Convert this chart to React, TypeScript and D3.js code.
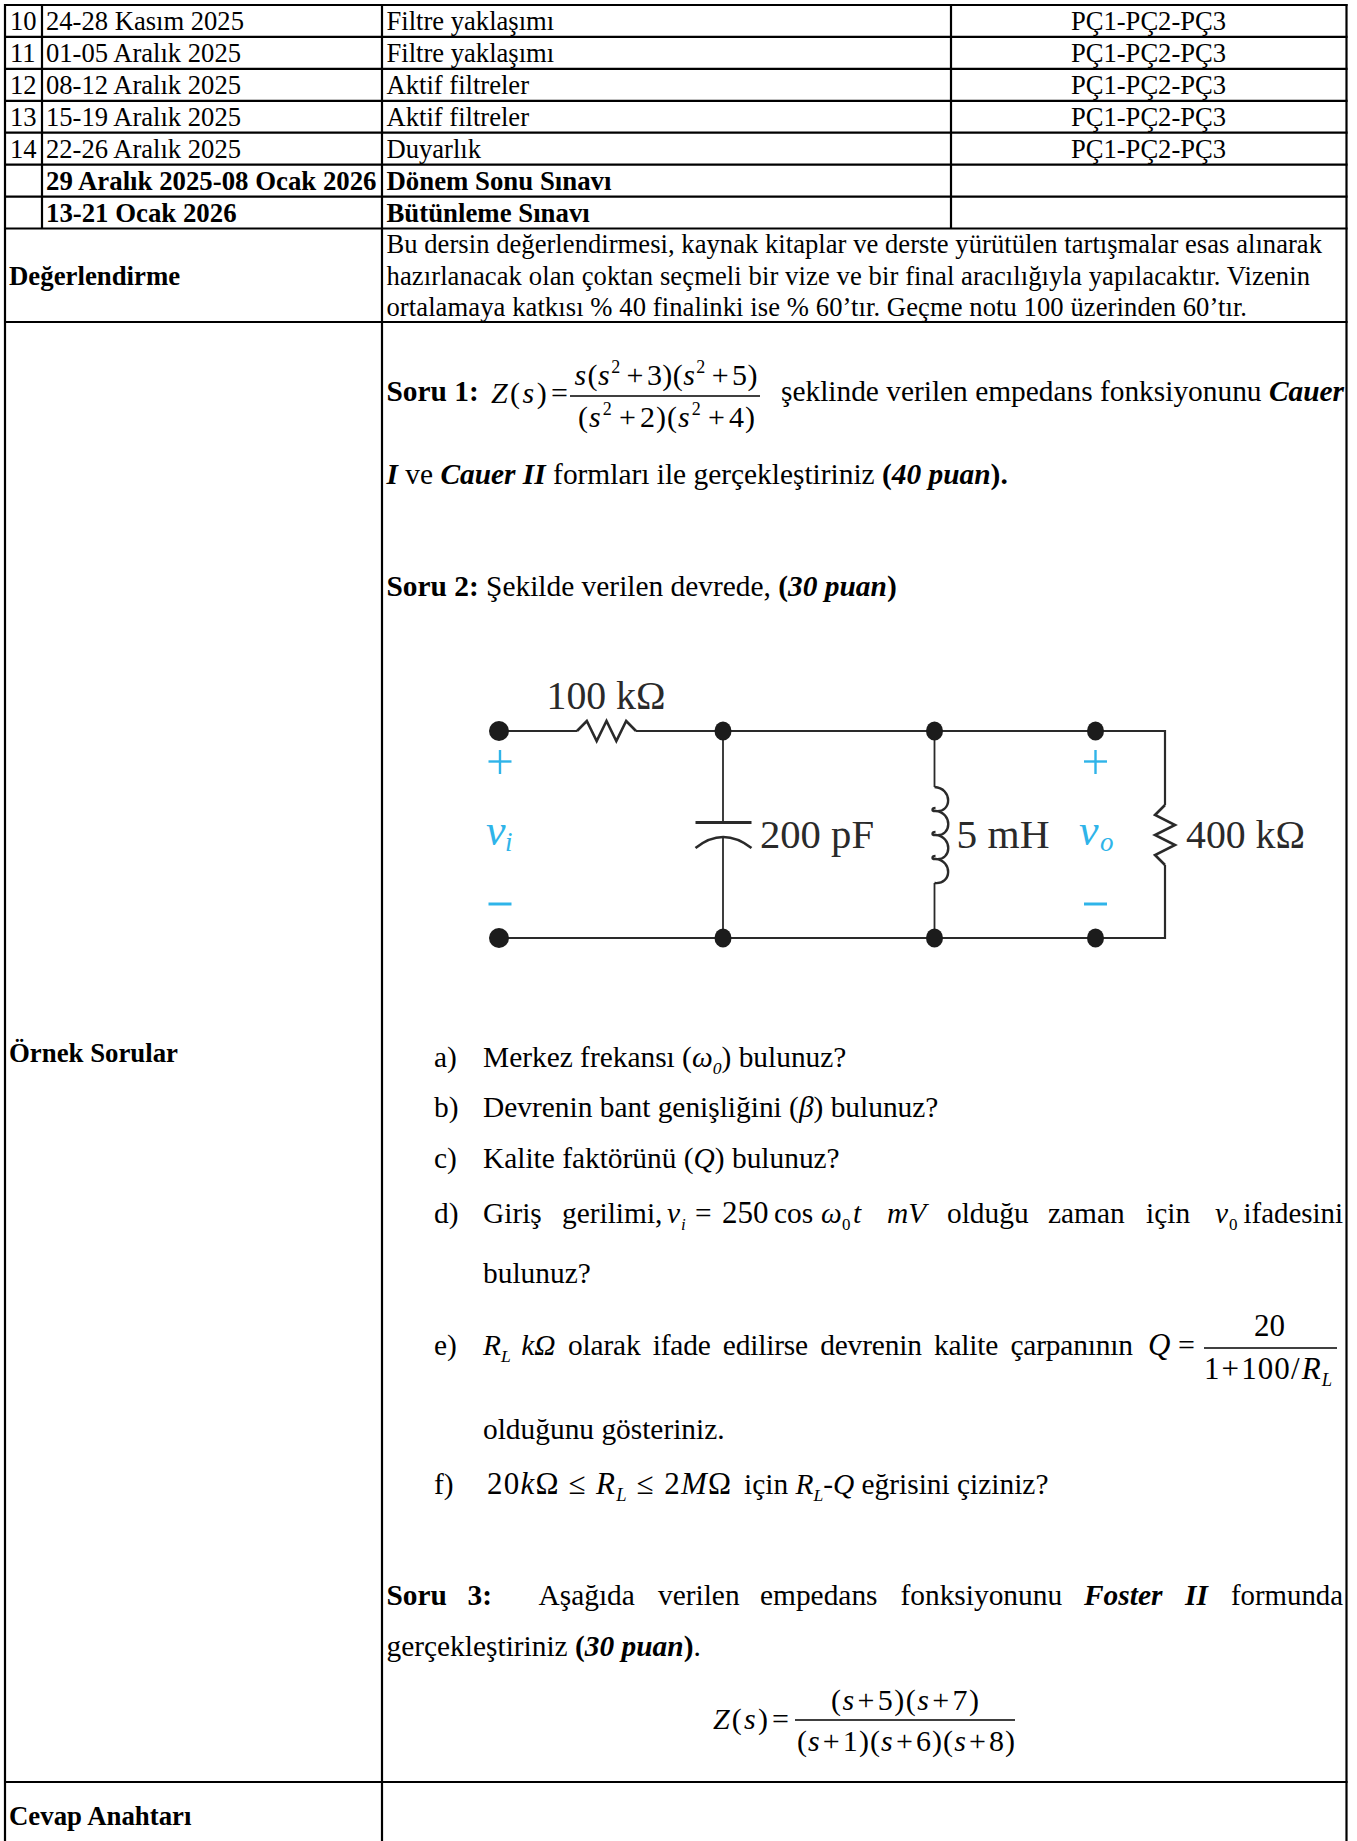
import React from "react";
import * as d3 from "d3";

const weekNos = ["10", "11", "12", "13", "14", "", ""];
const weekDates = ["24-28 Kasım 2025", "01-05 Aralık 2025", "08-12 Aralık 2025", "15-19 Aralık 2025", "22-26 Aralık 2025", "29 Aralık 2025-08 Ocak 2026", "13-21 Ocak 2026"];
const weekTopics = ["Filtre yaklaşımı", "Filtre yaklaşımı", "Aktif filtreler", "Aktif filtreler", "Duyarlık", "Dönem Sonu Sınavı", "Bütünleme Sınavı"];
const weekOutcomes = ["PÇ1-PÇ2-PÇ3", "PÇ1-PÇ2-PÇ3", "PÇ1-PÇ2-PÇ3", "PÇ1-PÇ2-PÇ3", "PÇ1-PÇ2-PÇ3", "", ""];
const evalLines = [
  "Bu dersin değerlendirmesi, kaynak kitaplar ve derste yürütülen tartışmalar esas alınarak",
  "hazırlanacak olan çoktan seçmeli bir vize ve bir final aracılığıyla yapılacaktır. Vizenin",
  "ortalamaya katkısı % 40 finalinki ise % 60’tır. Geçme notu 100 üzerinden 60’tır.",
];
const evalEnds = [1322, 1310, 1247];

const FONT = "'Liberation Serif', 'Times New Roman', serif";
const CYAN = "#2fb4e9";
const INK = "#2a2a2a";
const BODY = 29.4;
const HEAD = 26.8;

// table grid
const rowY = d3.scaleLinear().domain([0, 7]).range([5, 228.5]);
const gridRows = [0, 1, 2, 3, 4, 5, 6, 7].map((i) => rowY(i));
const gridExtra = [322, 1782];
const colX = { a: 5, b: 42, c: 382, d: 951, e: 1346.5 };

type Part = [string, string?];
// flags: i italic, b bold, ^ superscript, _ subscript; optional dx via "|n" suffix
function M({ x, y, parts, size = BODY, len, ws }: { x: number; y: number; parts: Part[]; size?: number; len?: number; ws?: number }) {
  let cur = 0;
  return (
    <text x={x} y={y} fontSize={size} fontFamily={FONT} fill="#000" textLength={len} lengthAdjust={len ? "spacing" : undefined} style={{ wordSpacing: ws, whiteSpace: "pre" }}>
      {parts.map(([s, f = ""], k) => {
        const sup = f.includes("^");
        const sub = f.includes("_");
        const target = sup ? -size * 0.4 : sub ? size * 0.24 : 0;
        const dy = target - cur;
        cur = target;
        const m = f.match(/\|(-?[\d.]+)/);
        return (
          <tspan key={k} dy={dy || undefined} dx={m ? +m[1] : undefined} fontStyle={f.includes("i") ? "italic" : undefined} fontWeight={f.includes("b") ? "bold" : undefined} fontSize={sup || sub ? size * 0.6 : undefined}>
            {s}
          </tspan>
        );
      })}
    </text>
  );
}

function T({ x, y, s, f = "", size = BODY, x1, anchor }: { x: number; y: number; s: string; f?: string; size?: number; x1?: number; anchor?: string }) {
  return (
    <text x={x} y={y} fontSize={size} fontFamily={FONT} fill="#000" fontStyle={f.includes("i") ? "italic" : undefined} fontWeight={f.includes("b") ? "bold" : undefined} textAnchor={anchor as any} textLength={x1 ? x1 - x : undefined} lengthAdjust={x1 ? "spacingAndGlyphs" : undefined}>
      {s}
    </text>
  );
}

// circuit
const nodeX = [499, 723, 934.5, 1095.5];
const wireRight = 1165;
const topY = 731;
const botY = 938;
const line = d3.line();

function zigzagH(x0: number, x1: number, y: number, amp: number, n: number): [number, number][] {
  const dx = (x1 - x0) / (n * 2);
  const pts: [number, number][] = [[x0, y]];
  for (let i = 1; i < n * 2; i++) pts.push([x0 + dx * i, y + (i % 2 ? -amp : amp)]);
  pts.push([x1, y]);
  return pts;
}
function zigzagV(y0: number, y1: number, x: number, amp: number, n: number): [number, number][] {
  return zigzagH(y0, y1, x, amp, n).map(([a, b]) => [b, a]);
}
function coil(x: number, y0: number, y1: number, n: number) {
  const p = d3.path();
  const h = (y1 - y0) / n;
  p.moveTo(x, y0);
  for (let i = 0; i < n; i++) {
    const y = y0 + i * h;
    p.bezierCurveTo(x + 18, y + 1, x + 18, y + h + 2, x + (i === n - 1 ? 0 : 1), y + h);
    if (i < n - 1) {
      p.bezierCurveTo(x - 3, y + h + 1, x - 3, y + h - 3, x + 1, y + h - 3);
      p.moveTo(x + 1, y + h);
    }
  }
  return p.toString();
}
function capArc() {
  const p = d3.path();
  p.moveTo(695.5, 848);
  p.quadraticCurveTo(723, 826, 751.5, 848);
  return p.toString();
}

function Circuit() {
  const wire = { stroke: INK, fill: "none" as const };
  const lab = { fontFamily: FONT, fontSize: 39, fill: INK };
  const cy = { fontFamily: FONT, fontStyle: "italic" as const, fill: CYAN };
  return (
    <g>
      <path d={line([[nodeX[0], topY], [577, topY]])!} {...wire} strokeWidth={2.2} />
      <path d={line(zigzagH(577, 636, topY, 10, 3))!} {...wire} strokeWidth={2.6} />
      <path d={line([[636, topY], [wireRight, topY], [wireRight, 805]])!} {...wire} strokeWidth={2.2} />
      <path d={line(zigzagV(805, 865, wireRight, 10, 3))!} {...wire} strokeWidth={2.6} />
      <path d={line([[wireRight, 865], [wireRight, botY], [nodeX[0], botY]])!} {...wire} strokeWidth={2.2} />
      <path d={line([[nodeX[1], topY], [nodeX[1], 822]])!} {...wire} strokeWidth={1.8} />
      <path d={line([[695.5, 822.5], [751.5, 822.5]])!} {...wire} strokeWidth={3} />
      <path d={capArc()} {...wire} strokeWidth={2.6} />
      <path d={line([[nodeX[1], 837], [nodeX[1], botY]])!} {...wire} strokeWidth={1.8} />
      <path d={line([[nodeX[2], topY], [nodeX[2], 787]])!} {...wire} strokeWidth={1.8} />
      <path d={coil(nodeX[2], 787, 883, 4)} {...wire} strokeWidth={2.4} />
      <path d={line([[nodeX[2], 883], [nodeX[2], botY]])!} {...wire} strokeWidth={1.8} />
      {[topY, botY].map((y) =>
        nodeX.map((x, i) => <ellipse key={`${x}-${y}`} cx={x} cy={y} rx={i === 0 ? 10 : 8.5} ry={i === 0 ? 10 : 9.5} fill="#1c1c1c" />)
      )}
      {[nodeX[0] + 1, nodeX[3]].map((x) => (
        <g key={x} stroke={CYAN} strokeWidth={2.4}>
          <path d={line([[x - 11.5, 761.5], [x + 11.5, 761.5]])!} />
          <path d={line([[x, 750], [x, 774]])!} />
          <path d={line([[x - 11.5, 904], [x + 11.5, 904]])!} strokeWidth={3} />
        </g>
      ))}
      <text x={546.5} y={709} {...lab} textLength={119} lengthAdjust="spacingAndGlyphs">100 kΩ</text>
      <text x={760} y={848} {...lab} textLength={114} lengthAdjust="spacingAndGlyphs">200 pF</text>
      <text x={956.5} y={848} {...lab} textLength={93} lengthAdjust="spacingAndGlyphs">5 mH</text>
      <text x={1186} y={848} {...lab} textLength={119} lengthAdjust="spacingAndGlyphs">400 kΩ</text>
      <text x={486} y={845} {...cy} fontSize={44}>v</text>
      <text x={505} y={851} {...cy} fontSize={27}>i</text>
      <text x={1079} y={845} {...cy} fontSize={44}>v</text>
      <text x={1100} y={851} {...cy} fontSize={27}>o</text>
    </g>
  );
}

export default function App() {
  const rowBase = (i: number) => rowY(i) + 25;
  return (
    <svg width={1357} height={1841} style={{ position: "absolute", left: 0, top: 0, display: "block", background: "#fff" }}>
      {/* grid */}
      <g stroke="#000" strokeWidth={2.2}>
        {[...gridRows, ...gridExtra].map((y) => (
          <line key={y} x1={colX.a - 1} x2={colX.e + 1} y1={y} y2={y} />
        ))}
        <line x1={colX.a} x2={colX.a} y1={4} y2={1841} />
        <line x1={colX.b} x2={colX.b} y1={4} y2={228.5} />
        <line x1={colX.c} x2={colX.c} y1={4} y2={1841} />
        <line x1={colX.d} x2={colX.d} y1={4} y2={228.5} />
        <line x1={colX.e} x2={colX.e} y1={4} y2={1841} />
      </g>

      {/* week rows */}
      {weekDates.map((d, i) => {
        const exam = i >= 5;
        return (
          <g key={i}>
            <T x={10} y={rowBase(i)} s={weekNos[i]} size={26.6} />
            <T x={46} y={rowBase(i)} s={d} size={exam ? HEAD : 26.6} f={exam ? "b" : ""} />
            <T x={386.5} y={rowBase(i)} s={weekTopics[i]} size={exam ? HEAD : 26.6} f={exam ? "b" : ""} />
            {weekOutcomes[i] && (
              <text x={1148.5} y={rowBase(i)} fontSize={26.6} fontFamily={FONT} textAnchor="middle">{weekOutcomes[i]}</text>
            )}
          </g>
        );
      })}

      <T x={9} y={285} s="Değerlendirme" f="b" size={HEAD} />
      {evalLines.map((l, i) => (
        <text key={i} x={386.5} y={[253, 285, 316][i]} fontSize={26.6} fontFamily={FONT} textLength={evalEnds[i] - 386.5}>{l}</text>
      ))}
      <T x={9} y={1062} s="Örnek Sorular" f="b" size={HEAD} />
      <T x={9} y={1825} s="Cevap Anahtarı" f="b" size={HEAD} />

      {/* Soru 1 */}
      <T x={386.5} y={401} s="Soru 1:" f="b" />
      <M x={491} y={403} size={30} len={77} parts={[["Z", "i"], ["(", "|1"], ["s", "i|1"], [")", "|1"], ["=", "|3"]]} />
      <line x1={570} x2={760} y1={396} y2={396} stroke="#000" strokeWidth={1.6} />
      <M x={574.5} y={385} size={30} len={183} parts={[["s", "i"], ["(", "|1"], ["s", "i"], ["2", "^|1"], ["+", "|6"], ["3", "|3"], [")"], ["("], ["s", "i"], ["2", "^|1"], ["+", "|6"], ["5", "|3"], [")"]]} />
      <M x={578} y={427} size={30} len={177} parts={[["("], ["s", "i"], ["2", "^|1"], ["+", "|6"], ["2", "|3"], [")"], ["("], ["s", "i"], ["2", "^|1"], ["+", "|6"], ["4", "|3"], [")"]]} />
      <text x={781} y={401} fontSize={BODY} fontFamily={FONT} textLength={563}>
        şeklinde verilen empedans fonksiyonunu <tspan fontWeight="bold" fontStyle="italic">Cauer</tspan>
      </text>
      <M x={386.5} y={484} parts={[["I", "bi"], [" ve "], ["Cauer II", "bi"], [" formları ile gerçekleştiriniz "], ["(", "b"], ["40 puan", "bi"], [").", "b"]]} />

      {/* Soru 2 */}
      <M x={386.5} y={596} parts={[["Soru 2:", "b"], [" Şekilde verilen devrede, "], ["(", "b"], ["30 puan", "bi"], [")", "b"]]} />
      <Circuit />

      {/* list */}
      <T x={434} y={1067} s="a)" />
      <M x={483} y={1067} parts={[["Merkez frekansı ("], ["ω", "i"], ["0", "i_"], [")"], [" bulunuz?"]]} />
      <T x={434} y={1117} s="b)" />
      <M x={483} y={1117} parts={[["Devrenin bant genişliğini ("], ["β", "i"], [") bulunuz?"]]} />
      <T x={434} y={1168} s="c)" />
      <M x={483} y={1168} parts={[["Kalite faktörünü ("], ["Q", "i"], [") bulunuz?"]]} />

      <T x={434} y={1223} s="d)" />
      <T x={483} y={1223} s="Giriş" />
      <T x={562} y={1223} s="gerilimi," />
      <T x={667} y={1223} s="v" f="i" />
      <T x={681} y={1230} s="i" f="i" size={17} />
      <T x={695} y={1223} s="=" />
      <T x={722} y={1223} s="250" size={31} />
      <T x={774} y={1223} s="cos" />
      <T x={821} y={1223} s="ω" f="i" />
      <T x={842} y={1230} s="0" size={17} />
      <T x={853} y={1223} s="t" f="i" />
      <T x={887} y={1223} s="mV" f="i" />
      <T x={947} y={1223} s="olduğu" />
      <T x={1048} y={1223} s="zaman" />
      <T x={1146} y={1223} s="için" />
      <T x={1215} y={1223} s="v" f="i" />
      <T x={1229} y={1230} s="0" size={17} />
      <T x={1243.5} x1={1343} y={1223} s="ifadesini" />
      <T x={483} y={1283} s="bulunuz?" />

      <T x={434} y={1355} s="e)" />
      <M x={483} y={1355} parts={[["R", "i"], ["L", "i_"], [" ", "|3"], ["kΩ", "i"]]} />
      <text x={568} y={1355} fontSize={BODY} fontFamily={FONT} textLength={565} style={{ wordSpacing: 5 }}>olarak ifade edilirse devrenin kalite çarpanının</text>
      <T x={1148} y={1355} s="Q" f="i" size={31} />
      <T x={1178} y={1355} s="=" size={30} />
      <line x1={1204} x2={1337} y1={1348} y2={1348} stroke="#000" strokeWidth={1.6} />
      <T x={1254} y={1336} s="20" size={31} />
      <M x={1204} y={1379} size={31} len={128} parts={[["1"], ["+", "|1"], ["100", "|1"], ["/"], ["R", "i|1"], ["L", "i_"]]} />
      <T x={483} y={1439} s="olduğunu gösteriniz." />

      <T x={434} y={1494} s="f)" />
      <M x={487} y={1494} size={31} len={244} parts={[["20"], ["k", "i"], ["Ω"], [" ≤ "], ["R", "i"], ["L", "i_"], [" ≤ 2"], ["M", "i"], ["Ω"]]} />
      <M x={744} y={1494} parts={[["için "], ["R", "i"], ["L", "i_"], ["-"], ["Q", "i"], [" eğrisini çiziniz?"]]} />

      {/* Soru 3 */}
      <T x={386.5} y={1605} s="Soru" f="b" />
      <T x={467.5} y={1605} s="3:" f="b" />
      <T x={538.5} y={1605} s="Aşağıda" />
      <T x={658} y={1605} s="verilen" />
      <T x={760} y={1605} s="empedans" />
      <T x={900.5} y={1605} s="fonksiyonunu" />
      <T x={1084} y={1605} s="Foster" f="bi" />
      <T x={1185} y={1605} s="II" f="bi" />
      <T x={1231} x1={1343} y={1605} s="formunda" />
      <M x={386.5} y={1656} parts={[["gerçekleştiriniz "], ["(", "b"], ["30 puan", "bi"], [")", "b"], ["."]]} />

      <M x={713} y={1729} size={30} len={76} parts={[["Z", "i"], ["(", "|1"], ["s", "i|1"], [")", "|1"], ["=", "|3"]]} />
      <line x1={795} x2={1015} y1={1720} y2={1720} stroke="#000" strokeWidth={1.6} />
      <M x={831} y={1710} size={30} len={148} parts={[["("], ["s", "i"], ["+", "|2"], ["5", "|2"], [")"], ["("], ["s", "i"], ["+", "|2"], ["7", "|2"], [")"]]} />
      <M x={797} y={1751} size={30} len={218} parts={[["("], ["s", "i"], ["+", "|2"], ["1", "|2"], [")"], ["("], ["s", "i"], ["+", "|2"], ["6", "|2"], [")"], ["("], ["s", "i"], ["+", "|2"], ["8", "|2"], [")"]]} />
    </svg>
  );
}
